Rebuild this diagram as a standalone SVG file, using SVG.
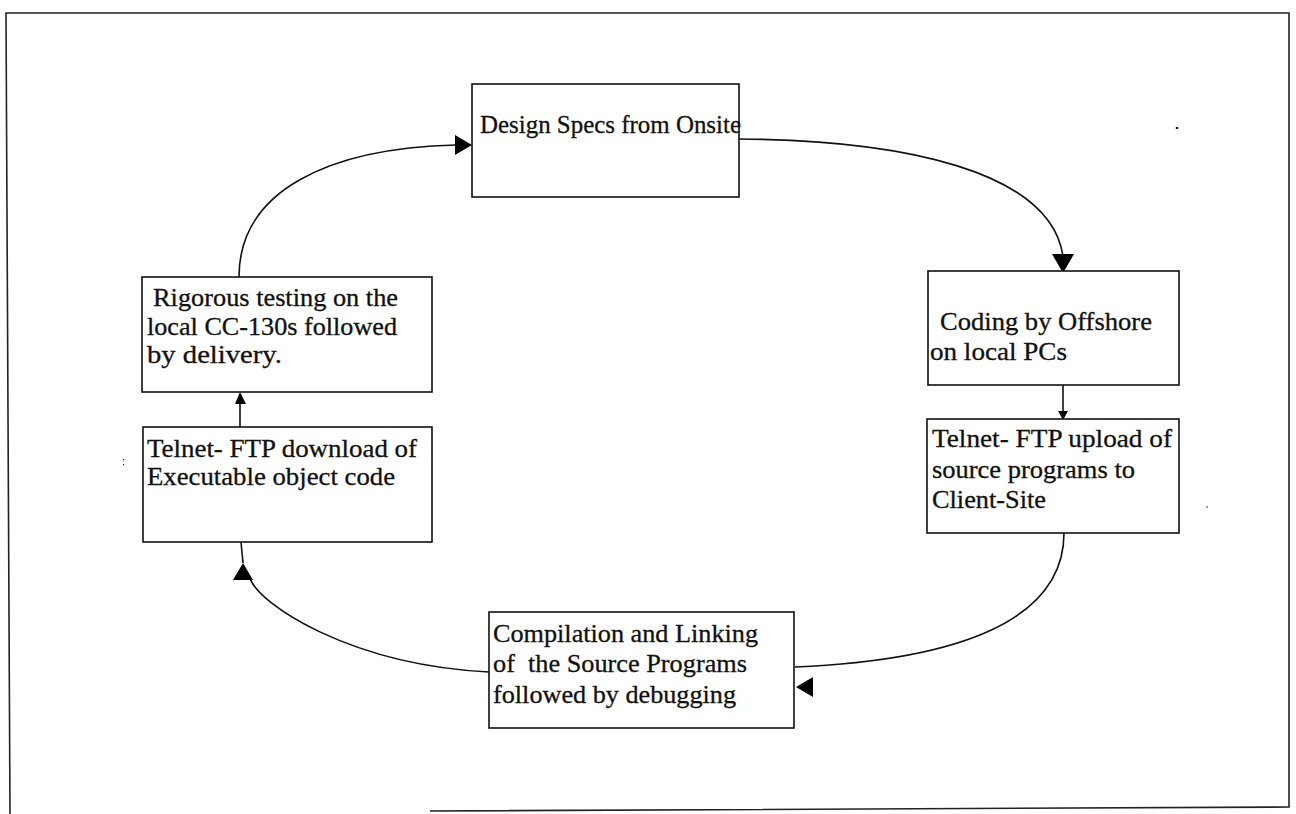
<svg xmlns="http://www.w3.org/2000/svg" width="1296" height="814" viewBox="0 0 1296 814">
  <style>
    .box { fill: #ffffff; stroke: #111111; stroke-width: 1.6; }
    .frame { fill: none; stroke: #222222; stroke-width: 1.6; }
    .link { fill: none; stroke: #111111; stroke-width: 1.6; }
    .head { fill: #000000; stroke: none; }
    .t { font-family: "Liberation Serif", "Times New Roman", serif; font-size: 25px; fill: #111111; stroke: #111111; stroke-width: 0.3; }
  </style>

  <rect width="1296" height="814" fill="#ffffff"/>

  <!-- outer frame -->
  <g id="frame">
    <polyline class="frame" points="10,814 6,13 1289,13 1289,807 430,811"/>
  </g>

  <!-- connectors -->
  <g id="connectors">
    <path class="link" d="M239,277 C239,190 330,148 456,145"/>
    <polygon class="head" points="472,145 455,135 455,155"/>

    <path class="link" d="M739,139 C900,140 1050,170 1063,256"/>
    <polygon class="head" points="1063,273 1052,254 1074,254"/>

    <path class="link" d="M1063,385 V413"/>
    <polygon class="head" points="1063,420 1058,411 1068,411"/>

    <path class="link" d="M1064,533 C1064,620 960,660 795,667"/>
    <polygon class="head" points="796,687 813,677 813,697"/>

    <path class="link" d="M489,672 C350,665 258,604 250,578"/>
    <path class="link" d="M241,542 L243,563"/>
    <polygon class="head" points="243,563 233,580 253,580"/>

    <path class="link" d="M240,427 V403"/>
    <polygon class="head" points="240,392 235,404 246,404"/>
  </g>

  <g id="design-specs">
    <rect class="box" x="472" y="84" width="267" height="113"/>
    <text class="t" x="480" y="133" textLength="261" lengthAdjust="spacingAndGlyphs">Design Specs from Onsite</text>
  </g>

  <g id="coding">
    <rect class="box" x="928" y="271" width="251" height="114"/>
    <text class="t" x="940" y="330" textLength="212" lengthAdjust="spacingAndGlyphs">Coding by Offshore</text>
    <text class="t" x="930" y="360" textLength="137" lengthAdjust="spacingAndGlyphs">on local PCs</text>
  </g>

  <g id="upload">
    <rect class="box" x="927" y="419" width="252" height="114"/>
    <text class="t" x="932" y="447" textLength="240" lengthAdjust="spacingAndGlyphs">Telnet- FTP upload of</text>
    <text class="t" x="932" y="478" textLength="203" lengthAdjust="spacingAndGlyphs">source programs to</text>
    <text class="t" x="932" y="508" textLength="114" lengthAdjust="spacingAndGlyphs">Client-Site</text>
  </g>

  <g id="compilation">
    <rect class="box" x="489" y="612" width="305" height="116"/>
    <text class="t" x="493" y="642" textLength="265" lengthAdjust="spacingAndGlyphs">Compilation and Linking</text>
    <text class="t" x="493" y="672" textLength="254" lengthAdjust="spacingAndGlyphs" xml:space="preserve">of  the Source Programs</text>
    <text class="t" x="493" y="703" textLength="243" lengthAdjust="spacingAndGlyphs">followed by debugging</text>
  </g>

  <g id="download">
    <rect class="box" x="143" y="427" width="289" height="115"/>
    <text class="t" x="147" y="457" textLength="270" lengthAdjust="spacingAndGlyphs">Telnet- FTP download of</text>
    <text class="t" x="147" y="485" textLength="248" lengthAdjust="spacingAndGlyphs">Executable object code</text>
  </g>

  <g id="testing">
    <rect class="box" x="142" y="277" width="290" height="115"/>
    <text class="t" x="153" y="306" textLength="245" lengthAdjust="spacingAndGlyphs">Rigorous testing on the</text>
    <text class="t" x="147" y="335" textLength="250" lengthAdjust="spacingAndGlyphs">local CC-130s followed</text>
    <text class="t" x="147" y="363" textLength="135" lengthAdjust="spacingAndGlyphs">by delivery.</text>
  </g>

  <!-- stray specks -->
  <g id="specks" fill="#222222">
    <circle cx="1177" cy="128" r="1.3"/>
    <circle cx="1207" cy="507" r="0.8"/>
    <rect x="123" y="459" width="1.2" height="1.2"/>
    <rect x="123" y="464" width="1.2" height="1.2"/>
  </g>
</svg>
